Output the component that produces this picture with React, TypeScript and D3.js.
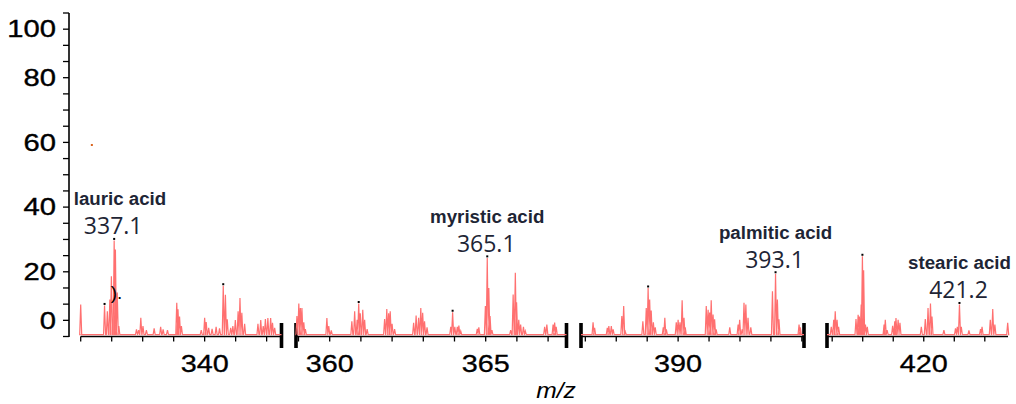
import { scaleLinear, range } from "d3";

// m/z windows shown on the broken x axis
const segmentDomains: [number, number][] = [
  [336, 342.48],
  [358.92, 367.59],
  [386.86, 394.07],
  [416.83, 422.76],
];

const xTickLabels = [340, 360, 365, 390, 420];
const yTickLabels = ["0", "20", "40", "60", "80", "100"];
// value at which each y label sits (the outer two are pulled in by one minor tick)
const yTickLabelAt = [5, 20, 40, 60, 80, 95];

const baselineIntensity = 0.6;

const lauricPeaks: [number, number][] = [
  [336.0, 9.9], [336.77, 9.6], [336.86, 7.8], [336.94, 11.4], [336.99, 18.6],
  [337.08, 29.7], [337.12, 26.9], [337.18, 13.6], [337.23, 3.2], [337.8, 2.2],
  [337.87, 2.0], [337.94, 5.8], [338.01, 3.2], [338.12, 2.0], [338.37, 2.5],
  [338.58, 3.0], [338.66, 2.2], [338.8, 2.0], [339.1, 10.4], [339.14, 8.4],
  [339.19, 6.2], [339.25, 3.2], [339.89, 2.0], [340.0, 5.8], [340.05, 4.5],
  [340.13, 2.7], [340.24, 2.4], [340.37, 3.0], [340.48, 2.5], [340.6, 15.7],
  [340.67, 12.9], [340.73, 5.3], [340.84, 2.7], [340.91, 3.2], [340.99, 5.1],
  [341.08, 7.8], [341.14, 11.9], [341.2, 7.3], [341.29, 3.9], [341.72, 3.9],
  [341.81, 5.1], [341.89, 3.2], [341.96, 5.4], [342.04, 5.7], [342.13, 5.7],
  [342.19, 4.2], [342.26, 2.7],
];

const myristicPeaks: [number, number][] = [
  [358.95, 6.3], [359.01, 10.2], [359.06, 8.8], [359.11, 8.8], [359.17, 4.4],
  [359.22, 2.3], [359.91, 5.7], [359.97, 3.2], [360.05, 1.9], [360.71, 4.7],
  [360.8, 7.8], [360.88, 5.2], [360.93, 10.2], [360.98, 7.2], [361.06, 8.3],
  [361.12, 5.2], [361.2, 2.3], [361.76, 5.4], [361.83, 8.5], [361.89, 7.2],
  [361.94, 7.8], [362.0, 3.9], [362.08, 2.3], [362.69, 4.2], [362.77, 6.5],
  [362.85, 5.8], [362.92, 8.8], [362.98, 7.3], [363.04, 4.7], [363.12, 2.8],
  [363.88, 3.0], [363.94, 7.5], [364.01, 3.0], [364.09, 3.0], [364.14, 3.4],
  [364.2, 1.7], [364.73, 2.4], [364.78, 2.8], [364.99, 9.4], [365.05, 24.3],
  [365.1, 15.0], [365.14, 6.3], [365.2, 2.0], [365.8, 2.0], [365.88, 13.0],
  [365.95, 19.7], [365.99, 10.6], [366.06, 5.2], [366.12, 3.7], [366.21, 3.0],
  [366.27, 1.7], [366.89, 3.0], [366.96, 3.7], [367.16, 3.7], [367.21, 4.3],
  [367.26, 3.0],
];

const palmiticPeaks: [number, number][] = [
  [387.25, 4.4], [387.3, 2.7], [387.71, 2.7], [387.76, 3.2], [387.84, 3.2],
  [387.9, 2.2], [388.18, 6.3], [388.24, 9.4], [388.29, 1.5], [388.86, 4.7],
  [388.97, 8.8], [389.03, 15.0], [389.08, 11.4], [389.13, 8.0], [389.2, 4.4],
  [389.26, 2.8], [389.52, 2.8], [389.57, 5.8], [389.62, 2.2], [389.94, 4.4],
  [390.0, 5.2], [390.06, 4.4], [390.13, 11.2], [390.19, 5.8], [390.23, 2.8],
  [390.91, 9.4], [390.97, 8.3], [391.02, 7.4], [391.07, 11.2], [391.13, 6.8],
  [391.18, 5.3], [391.23, 2.2], [391.67, 2.8], [391.94, 3.7], [391.99, 5.2],
  [392.07, 2.2], [392.13, 10.4], [392.19, 9.9], [392.26, 5.8], [392.35, 2.8],
  [393.05, 14.0], [393.15, 19.4], [393.21, 11.4], [393.26, 5.3], [393.91, 3.7],
  [393.95, 2.8],
];

const stearicPeaks: [number, number][] = [
  [416.97, 3.0], [417.05, 5.2], [417.1, 7.8], [417.16, 5.2], [417.21, 3.0],
  [417.78, 5.4], [417.85, 6.7], [417.89, 6.2], [417.95, 9.9], [417.99, 24.8],
  [418.03, 20.5], [418.09, 3.7], [418.15, 3.0], [418.7, 3.7], [418.74, 5.2],
  [418.8, 2.0], [418.98, 3.3], [419.05, 4.7], [419.09, 5.7], [419.16, 5.2],
  [419.22, 4.2], [419.92, 3.0], [420.05, 5.4], [420.14, 8.8], [420.22, 10.2],
  [420.27, 6.2], [420.66, 2.0], [421.04, 2.5], [421.1, 3.0], [421.17, 9.9],
  [421.23, 3.0], [421.48, 1.9], [421.86, 2.3], [421.91, 3.0], [422.18, 5.2],
  [422.26, 8.5], [422.33, 3.7], [422.75, 4.2],
];

const segmentPeaks = [lauricPeaks, myristicPeaks, palmiticPeaks, stearicPeaks];

// peaks carrying a small black marker
const markedPeaks = [336.77, 337.08, 340.6, 360.93, 363.94, 365.05, 389.03, 393.15, 417.99, 421.17];

const annotationNames = ["lauric acid", "myristic acid", "palmitic acid", "stearic acid"];
const annotationLabels = ["337.1", "365.1", "393.1", "421.2"];
const annotationMz = [337.08, 365.05, 393.15, 421.17];

// stray mark left in the original figure
const strayDot = { mz: 336.36, value: 59.2 };

// layout
const W = 1016;
const H = 404;
const axisX = 69;
const segmentRanges: [number, number][] = [
  [80.7, 281.5],
  [296, 566.5],
  [581, 804],
  [827, 1008],
];
const peakColor = "#ff7070";
const textColor = "#1e2535";

const y = scaleLinear().domain([0, 100]).range([336.5, 13]);
const xScales = segmentDomains.map((d, i) => scaleLinear().domain(d).range(segmentRanges[i]));

function segmentOf(mz: number) {
  return segmentDomains.findIndex(([a, b]) => mz >= a && mz <= b);
}
function xOf(mz: number) {
  return xScales[segmentOf(mz)](mz);
}
function valueOf(mz: number) {
  const peaks = segmentPeaks[segmentOf(mz)];
  const p = peaks.find((d) => Math.abs(d[0] - mz) < 1e-6);
  return p ? p[1] : 0;
}

export default function App() {
  const yb = y(baselineIntensity);
  const axisY = y(0);

  const paths = segmentPeaks.map((peaks, i) => {
    const xs = xScales[i];
    const [r0, r1] = segmentRanges[i];
    let d = `M${r0},${yb}`;
    [...peaks]
      .sort((a, b) => a[0] - b[0])
      .forEach(([mz, v]) => {
        const x = xs(mz);
        d += `L${x - 1},${yb}L${x},${y(v)}L${x + 1},${yb}`;
      });
    d += `L${r1},${yb}`;
    return d;
  });

  return (
    <svg
      width={W}
      height={H}
      style={{ position: "absolute", left: 0, top: 0, background: "#fff" }}
      fontFamily="'Liberation Sans', Arial, sans-serif"
    >
      {/* y axis */}
      <line x1={axisX} x2={axisX} y1={y(100)} y2={axisY + 0.5} stroke="#000" strokeWidth={1.6} />
      {y.ticks(20).map((t) => (
        <line key={t} x1={axisX - 6} x2={axisX} y1={y(t)} y2={y(t)} stroke="#000" strokeWidth={1.3} />
      ))}
      {yTickLabels.map((lab, i) => (
        <text
          key={lab}
          transform={`translate(56,${y(yTickLabelAt[i]) + 8.3}) scale(1.27,1)`}
          textAnchor="end"
          fontSize={23}
          fill="#000"
          stroke="#000"
          strokeWidth={0.35}
        >
          {lab}
        </text>
      ))}

      {/* broken x axis */}
      {segmentRanges.map(([r0, r1], i) => {
        const [d0, d1] = segmentDomains[i];
        const ticks = range(Math.ceil(d0), Math.floor(d1) + 1);
        return (
          <g key={i}>
            <line x1={r0} x2={r1} y1={axisY} y2={axisY} stroke="#000" strokeWidth={1.6} />
            {ticks.map((t) => (
              <line
                key={t}
                x1={xScales[i](t)}
                x2={xScales[i](t)}
                y1={axisY}
                y2={axisY + 5}
                stroke="#000"
                strokeWidth={1.3}
              />
            ))}
            {i > 0 && <rect x={r0 - 1.8} y={323} width={3.6} height={25} fill="#000" />}
            {i < segmentRanges.length - 1 && <rect x={r1 - 1.8} y={323} width={3.6} height={25} fill="#000" />}
          </g>
        );
      })}
      {xTickLabels.map((t) => (
        <text
          key={t}
          transform={`translate(${xOf(t)},371.5) scale(1.2,1)`}
          textAnchor="middle"
          fontSize={24}
          fill="#000"
          stroke="#000"
          strokeWidth={0.3}
        >
          {t}
        </text>
      ))}
      <text
        transform="translate(556,398) scale(1.12,1)"
        textAnchor="middle"
        fontSize={22}
        fontStyle="italic"
        fill="#000"
      >
        m/z
      </text>

      {/* spectrum */}
      {paths.map((d, i) => (
        <path key={i} d={d} fill="none" stroke={peakColor} strokeWidth={1.2} />
      ))}
      {markedPeaks.map((mz) => (
        <rect key={mz} x={xOf(mz) - 1} y={y(valueOf(mz)) - 2.5} width={2} height={2} fill="#000" />
      ))}
      <rect x={xOf(strayDot.mz) - 1} y={y(strayDot.value) - 1} width={2} height={2} fill="#d9641e" />
      <text x={xOf(337.1) - 4} y={299} fontSize={19} fill="#000">
        ).
      </text>

      {/* annotations */}
      {annotationMz.map((mz, i) => {
        const px = xOf(mz);
        const numBase = y(valueOf(mz)) - 6;
        const nameX = Math.max(px, axisX + 51);
        return (
          <g key={mz}>
            <text
              x={nameX}
              y={numBase - 29}
              textAnchor="middle"
              fontSize={18.7}
              fontWeight="bold"
              fill={textColor}
            >
              {annotationNames[i]}
            </text>
            <text
              x={px - 1}
              y={numBase}
              textAnchor="middle"
              fontSize={23}
              fontFamily="'Open Sans', sans-serif"
              fill={textColor}
            >
              {annotationLabels[i]}
            </text>
          </g>
        );
      })}
    </svg>
  );
}
